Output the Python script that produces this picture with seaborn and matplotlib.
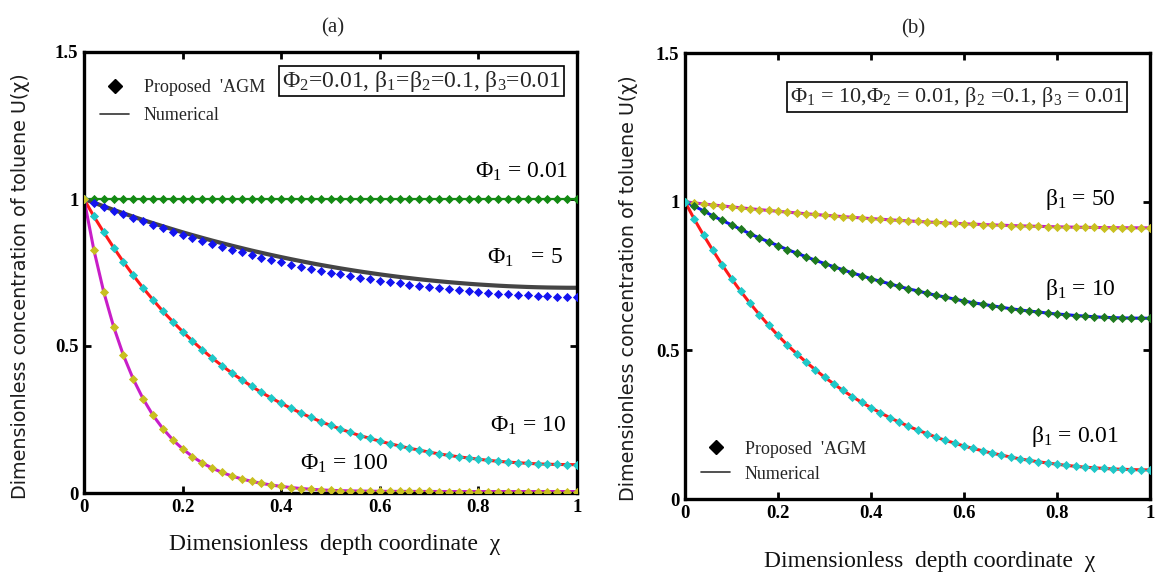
import numpy as np
import pandas as pd
import matplotlib
matplotlib.use("Agg")
import matplotlib.pyplot as plt
import seaborn as sns
from matplotlib.lines import Line2D

# ---------------- data ----------------
chi = np.linspace(0, 1, 51)

# panel (a)
phi1_001 = [1.0] * 51
phi1_5_num = [1.0, 0.9876, 0.9751, 0.9631, 0.9513, 0.9398, 0.9285, 0.9177, 0.9072, 0.8969,
              0.8868, 0.8772, 0.8678, 0.8586, 0.8498, 0.8412, 0.8329, 0.8247, 0.8170, 0.8095,
              0.8023, 0.7953, 0.7886, 0.7820, 0.7758, 0.7699, 0.7641, 0.7587, 0.7534, 0.7485,
              0.7437, 0.7392, 0.7349, 0.7310, 0.7271, 0.7236, 0.7203, 0.7172, 0.7144, 0.7117,
              0.7093, 0.7072, 0.7052, 0.7035, 0.7021, 0.7008, 0.6998, 0.6990, 0.6985, 0.6981,
              0.6980]
phi1_5_agm = [1.0, 0.9866, 0.9735, 0.9607, 0.9481, 0.9358, 0.9235, 0.9117, 0.9002, 0.8889,
              0.8778, 0.8672, 0.8568, 0.8466, 0.8368, 0.8272, 0.8181, 0.8091, 0.8006, 0.7923,
              0.7843, 0.7769, 0.7698, 0.7628, 0.7562, 0.7499, 0.7439, 0.7383, 0.7328, 0.7277,
              0.7227, 0.7178, 0.7131, 0.7088, 0.7045, 0.7006, 0.6967, 0.6930, 0.6896, 0.6863,
              0.6833, 0.6806, 0.6780, 0.6757, 0.6737, 0.6718, 0.6704, 0.6692, 0.6683, 0.6675,
              0.6670]
phi1_10 = [1.0, 0.941, 0.887, 0.835, 0.786, 0.740, 0.697, 0.657, 0.618, 0.583,
           0.549, 0.517, 0.487, 0.459, 0.433, 0.408, 0.385, 0.363, 0.342, 0.323,
           0.305, 0.288, 0.272, 0.257, 0.243, 0.230, 0.218, 0.206, 0.195, 0.186,
           0.176, 0.168, 0.160, 0.152, 0.146, 0.139, 0.133, 0.128, 0.123, 0.119,
           0.115, 0.111, 0.108, 0.105, 0.103, 0.101, 0.099, 0.098, 0.097, 0.0966,
           0.0964]
phi1_100 = [1.0, 0.827, 0.684, 0.566, 0.468, 0.387, 0.320, 0.264, 0.219, 0.181,
            0.150, 0.124, 0.102, 0.0846, 0.0699, 0.0578, 0.0478, 0.0396, 0.0327, 0.0271,
            0.0224, 0.0185, 0.0153, 0.0127, 0.0105, 0.0090, 0.0080, 0.0072, 0.0066, 0.0062,
            0.0058, 0.0056, 0.0055, 0.0054, 0.0053, 0.0052, 0.0051, 0.0050, 0.0050, 0.0050,
            0.0050, 0.0050, 0.0050, 0.0050, 0.0050, 0.0050, 0.0050, 0.0050, 0.0050, 0.0050,
            0.0050]

# panel (b)
beta1_50 = [1.0, 0.9958, 0.9923, 0.9890, 0.9857, 0.9825, 0.9793, 0.9763, 0.9733, 0.9704,
            0.9676, 0.9648, 0.9621, 0.9594, 0.9569, 0.9544, 0.9520, 0.9497, 0.9474, 0.9452,
            0.9431, 0.9410, 0.9390, 0.9371, 0.9353, 0.9336, 0.9319, 0.9303, 0.9287, 0.9272,
            0.9257, 0.9244, 0.9231, 0.9219, 0.9208, 0.9197, 0.9187, 0.9178, 0.9170, 0.9162,
            0.9154, 0.9148, 0.9142, 0.9137, 0.9132, 0.9129, 0.9126, 0.9123, 0.9121, 0.9120,
            0.9120]
beta1_10 = [1.0, 0.985, 0.969, 0.952, 0.937, 0.922, 0.907, 0.892, 0.878, 0.865,
            0.852, 0.839, 0.827, 0.815, 0.803, 0.792, 0.781, 0.771, 0.760, 0.751,
            0.741, 0.732, 0.724, 0.715, 0.707, 0.700, 0.692, 0.685, 0.679, 0.672,
            0.666, 0.660, 0.655, 0.650, 0.645, 0.640, 0.636, 0.632, 0.629, 0.625,
            0.622, 0.620, 0.617, 0.615, 0.613, 0.611, 0.610, 0.609, 0.6085, 0.608,
            0.608]
beta1_001 = [1.0, 0.941, 0.887, 0.836, 0.787, 0.741, 0.698, 0.658, 0.620, 0.584,
             0.550, 0.518, 0.489, 0.461, 0.435, 0.410, 0.387, 0.365, 0.344, 0.325,
             0.307, 0.290, 0.274, 0.259, 0.245, 0.232, 0.220, 0.208, 0.197, 0.188,
             0.178, 0.170, 0.162, 0.154, 0.148, 0.141, 0.135, 0.130, 0.125, 0.121,
             0.117, 0.113, 0.110, 0.107, 0.105, 0.103, 0.101, 0.100, 0.099, 0.098,
             0.098]

xticks = [0, 0.2, 0.4, 0.6, 0.8, 1]
xticklabels = ["0", "0.2", "0.4", "0.6", "0.8", "1"]
yticks = [0, 0.5, 1, 1.5]
yticklabels = ["0", "0.5", "1", "1.5"]

# ---------------- style ----------------
sns.set_theme(style="ticks")
plt.rcParams["font.family"] = ["Liberation Serif", "DejaVu Serif"]
plt.rcParams["mathtext.fontset"] = "custom"
plt.rcParams["mathtext.rm"] = "Liberation Serif"
plt.rcParams["mathtext.it"] = "Liberation Serif:italic"
plt.rcParams["mathtext.bf"] = "Liberation Serif:bold"

fig = plt.figure(figsize=(11.55, 5.74), dpi=100)
W, H = 1155.0, 574.0
axA = fig.add_axes([84 / W, 1 - 493 / H, 493 / W, 441 / H])
axB = fig.add_axes([685 / W, 1 - 499 / H, 465 / W, 446 / H])

MS = 22


def curve(ax, y_num, y_agm, lcol, mcol, lw=2.0):
    sns.lineplot(x=chi, y=y_num, ax=ax, color=lcol, linewidth=lw, legend=False)
    sns.scatterplot(x=chi, y=y_agm, ax=ax, color=mcol, marker="D", s=MS,
                    linewidth=0, legend=False, zorder=4)


# panel (a)
curve(axA, phi1_001, phi1_001, "#138a13", "#138a13", lw=1.6)
curve(axA, phi1_5_num, phi1_5_agm, "#454545", "#1414f0", lw=3.0)
curve(axA, phi1_10, phi1_10, "#ff1a1a", "#20c8c8", lw=2.2)
curve(axA, phi1_100, phi1_100, "#c81ec8", "#c8c020", lw=2.2)

# panel (b)
curve(axB, beta1_50, beta1_50, "#c81ec8", "#c8c020", lw=2.2)
curve(axB, beta1_10, beta1_10, "#1414f0", "#1f7a1f", lw=2.2)
curve(axB, beta1_001, beta1_001, "#ff1a1a", "#20c8c8", lw=2.2)

for ax in (axA, axB):
    ax.set_xlim(0, 1)
    ax.set_ylim(0, 1.5)
    ax.set_xticks(xticks)
    ax.set_xticklabels(xticklabels)
    ax.set_yticks(yticks)
    ax.set_yticklabels(yticklabels)
    ax.tick_params(direction="in", top=True, right=True, length=5, width=2,
                   labelsize=13.5, pad=4, colors="black")
    for lab in ax.get_xticklabels() + ax.get_yticklabels():
        lab.set_fontweight("bold")
    for sp in ax.spines.values():
        sp.set_linewidth(2.4)
        sp.set_color("black")
        sp.set_visible(True)
    ax.set_ylabel("Dimensionless concentration of toluene U(\u03c7)",
                  fontfamily="DejaVu Sans", fontsize=13.8, color="#1c1c1c")
    ax.set_xlabel("Dimensionless  depth coordinate  \u03c7", fontsize=17, color="#111111")

axA.yaxis.set_label_coords(-0.11, 0.47)
axB.yaxis.set_label_coords(-0.10, 0.473)
axA.xaxis.set_label_coords(0.509, -0.092)
axB.xaxis.set_label_coords(0.525, -0.117)

axA.set_title("(a)", fontsize=15, pad=14)
axB.set_title("(b)", fontsize=15, pad=14)
axA.title.set_position((0.504, 1.0))
axB.title.set_position((0.49, 1.0))

# annotations panel (a)
tk = dict(fontsize=17, ha="left", va="center", color="black")
axA.text(0.793, 1.092, "\u03a6$_1$ = 0.01", **tk)
axA.text(0.817, 0.80, "\u03a6$_1$   = 5", **tk)
axA.text(0.824, 0.228, "\u03a6$_1$ = 10", **tk)
axA.text(0.438, 0.099, "\u03a6$_1$ = 100", **tk)
axA.text(0.684, 1.401, "\u03a6$_2$=0.01, \u03b2$_1$=\u03b2$_2$=0.1, \u03b2$_3$=0.01",
         fontsize=17, ha="center", va="center",
         bbox=dict(boxstyle="square,pad=0.12", fc="white", ec="black", lw=1.2))

# annotations panel (b)
axB.text(0.775, 1.006, "\u03b2$_1$ = 50", **tk)
axB.text(0.775, 0.703, "\u03b2$_1$ = 10", **tk)
axB.text(0.745, 0.209, "\u03b2$_1$ = 0.01", **tk)
axB.text(0.585, 1.352, "\u03a6$_1$ = 10,\u03a6$_2$ = 0.01, \u03b2$_2$ =0.1, \u03b2$_3$ = 0.01",
         fontsize=16, ha="center", va="center",
         bbox=dict(boxstyle="square,pad=0.12", fc="white", ec="black", lw=1.2))

handles = [Line2D([], [], color="black", marker="D", linestyle="none", markersize=7),
           Line2D([], [], color="#333333", linewidth=1.2)]
labels = ["Proposed  'AGM", "Numerical"]
axA.legend(handles, labels, loc="upper left", bbox_to_anchor=(0.0, 0.975), frameon=False,
           fontsize=13, handlelength=1.6, handletextpad=0.8, labelspacing=0.6)
axB.legend(handles, labels, loc="lower left", bbox_to_anchor=(0.0, 0.0), frameon=False,
           fontsize=13, handlelength=1.6, handletextpad=0.8, labelspacing=0.45)

fig.savefig("out.png", dpi=100)
